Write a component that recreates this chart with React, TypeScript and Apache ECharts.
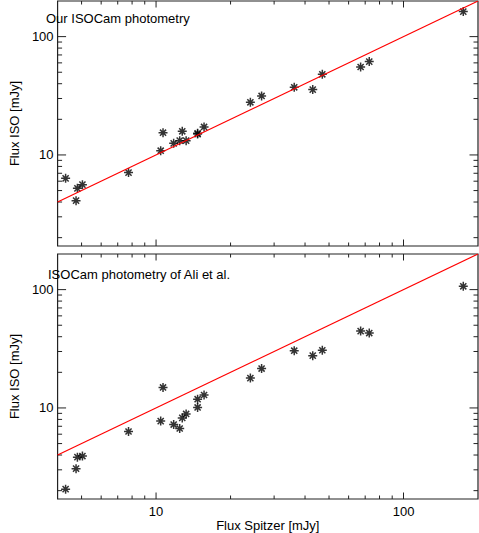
import React, { useEffect, useRef } from "react";
import * as echarts from "echarts";

// Spitzer flux (mJy), shared by both panels
const spitzerFlux = [4.31, 4.75, 4.81, 5.04, 7.74, 10.44, 10.67, 11.78, 12.46, 12.76, 13.23, 14.72, 14.72, 15.63, 24.05, 26.7, 36.17, 42.97, 46.97, 67.1, 72.7, 174.4];
// Our ISOCam photometry (mJy)
const isoOurs = [6.34, 4.11, 5.22, 5.61, 7.09, 10.87, 15.43, 12.53, 13.21, 15.83, 13.21, 15.22, 15.0, 17.25, 27.84, 31.53, 37.27, 35.65, 48.0, 55.4, 61.5, 162.7];
// ISOCam photometry of Ali et al. (mJy)
const isoAli = [2.06, 3.07, 3.84, 3.92, 6.32, 7.74, 14.9, 7.24, 6.7, 8.24, 8.9, 10.1, 11.86, 12.86, 17.87, 21.52, 30.48, 27.67, 30.72, 44.6, 42.95, 106.6];

const xRange = [4, 200];
const yRange = [1.7, 200];
const oneToOne = [4, 200];

const xMajorTicks = [10, 100];
const xMinorTicks = [5, 6, 7, 8, 9, 20, 30, 40, 50, 60, 70, 80, 90];
const yMajorTicks = [10, 100];
const yMinorTicks = [2, 3, 4, 5, 6, 7, 8, 9, 20, 30, 40, 50, 60, 70, 80, 90];

const panelTitles = ["Our ISOCam photometry", "ISOCam photometry of Ali et al."];
const xTitle = "Flux Spitzer [mJy]";
const yTitle = "Flux ISO [mJy]";

const FONT = "'Liberation Sans', Arial, Helvetica, sans-serif";
const ASTERISK = "path://M5,0L5,10M0,5L10,5M1.6,1.6L8.4,8.4M1.6,8.4L8.4,1.6";

const lg = (v: number) => Math.log10(v);
const decadeLabel = (v: number) =>
  Math.abs(v - Math.round(v)) < 1e-6 && v > 0.7 && v < 2.2 ? String(Math.round(Math.pow(10, v))) : "";

export default function App() {
  const ref = useRef<HTMLDivElement>(null);
  useEffect(() => {
    if (!ref.current) return;
    const chart = echarts.init(ref.current, null, { renderer: "svg" });

    const grids = [
      { left: 40, top: 1, width: 438, height: 245, show: true, borderColor: "#222", borderWidth: 1.2, backgroundColor: "transparent" },
      { left: 40, top: 254, width: 438, height: 245.5, show: true, borderColor: "#222", borderWidth: 1.2, backgroundColor: "transparent" },
    ];

    const xAxes: any[] = [0, 1].map((g) => ({
      type: "value",
      gridIndex: g,
      min: lg(xRange[0]),
      max: lg(xRange[1]),
      splitNumber: 4,
      axisLine: { show: false },
      axisTick: { show: false },
      splitLine: { show: false },
      axisLabel: {
        show: g === 1,
        color: "#000",
        fontFamily: FONT,
        fontSize: 13,
        margin: 6,
        showMinLabel: false,
        showMaxLabel: false,
        formatter: decadeLabel,
      },
      name: g === 1 ? xTitle : "",
      nameLocation: "middle",
      nameGap: 20,
      nameTextStyle: { color: "#000", fontFamily: FONT, fontSize: 13 },
    }));

    const yAxes: any[] = [0, 1].map((g) => ({
      type: "value",
      gridIndex: g,
      min: lg(yRange[0]),
      max: lg(yRange[1]),
      splitNumber: 4,
      axisLine: { show: false },
      axisTick: { show: false },
      splitLine: { show: false },
      axisLabel: {
        color: "#000",
        fontFamily: FONT,
        fontSize: 13,
        margin: 4,
        showMinLabel: false,
        showMaxLabel: false,
        formatter: decadeLabel,
      },
      name: yTitle,
      nameLocation: "middle",
      nameGap: 24,
      nameTextStyle: { color: "#000", fontFamily: FONT, fontSize: 13 },
    }));

    const tickStyle = { stroke: "#222", lineWidth: 1 };
    const xTickData = [
      ...xMajorTicks.map((v) => [lg(v), 1, 1]),
      ...xMinorTicks.map((v) => [lg(v), 1, 0]),
    ];
    const yTickData = [
      ...yMajorTicks.map((v) => [1, lg(v), 1]),
      ...yMinorTicks.map((v) => [1, lg(v), 0]),
    ];

    const series: any[] = [];
    [isoOurs, isoAli].forEach((ys, g) => {
      series.push({
        type: "custom",
        xAxisIndex: g,
        yAxisIndex: g,
        data: xTickData,
        encode: { x: 0, y: 1 },
        silent: true,
        renderItem: (params: any, api: any) => {
          const cs = params.coordSys;
          const px = api.coord([api.value(0), 1])[0];
          const len = api.value(2) === 1 ? 6.5 : 3.5;
          return {
            type: "group",
            children: [
              { type: "line", shape: { x1: px, y1: cs.y + cs.height, x2: px, y2: cs.y + cs.height - len }, style: tickStyle },
              { type: "line", shape: { x1: px, y1: cs.y, x2: px, y2: cs.y + len }, style: tickStyle },
            ],
          };
        },
      });
      series.push({
        type: "custom",
        xAxisIndex: g,
        yAxisIndex: g,
        data: yTickData,
        encode: { x: 0, y: 1 },
        silent: true,
        renderItem: (params: any, api: any) => {
          const cs = params.coordSys;
          const py = api.coord([1, api.value(1)])[1];
          const len = api.value(2) === 1 ? 8.5 : 4.5;
          return {
            type: "group",
            children: [
              { type: "line", shape: { x1: cs.x, y1: py, x2: cs.x + len, y2: py }, style: tickStyle },
              { type: "line", shape: { x1: cs.x + cs.width, y1: py, x2: cs.x + cs.width - len, y2: py }, style: tickStyle },
            ],
          };
        },
      });
      series.push({
        type: "line",
        xAxisIndex: g,
        yAxisIndex: g,
        data: [[lg(oneToOne[0]), lg(oneToOne[0])], [lg(oneToOne[1]), lg(oneToOne[1])]],
        showSymbol: false,
        silent: true,
        lineStyle: { color: "#ff0000", width: 1.2 },
        clip: true,
      });
      series.push({
        type: "scatter",
        xAxisIndex: g,
        yAxisIndex: g,
        data: spitzerFlux.map((x, i) => [lg(x), lg(ys[i])]),
        symbol: ASTERISK,
        symbolSize: 9,
        itemStyle: { color: "transparent", borderColor: "#000", borderWidth: 1.5 },
        silent: true,
      });
    });

    chart.setOption({
      animation: false,
      backgroundColor: "#fff",
      textStyle: { fontFamily: FONT },
      grid: grids,
      xAxis: xAxes,
      yAxis: yAxes,
      series,
      graphic: [
        { type: "text", x: 46, y: 18.5, style: { text: panelTitles[0], fill: "#000", font: `13px ${FONT}`, verticalAlign: "middle" } },
        { type: "text", x: 48, y: 274, style: { text: panelTitles[1], fill: "#000", font: `13px ${FONT}`, verticalAlign: "middle" } },
      ],
    });
    return () => chart.dispose();
  }, []);
  return (
    <div
      ref={ref}
      style={{ position: "absolute", left: 0, top: 0, width: 479, height: 533 }}
    />
  );
}
